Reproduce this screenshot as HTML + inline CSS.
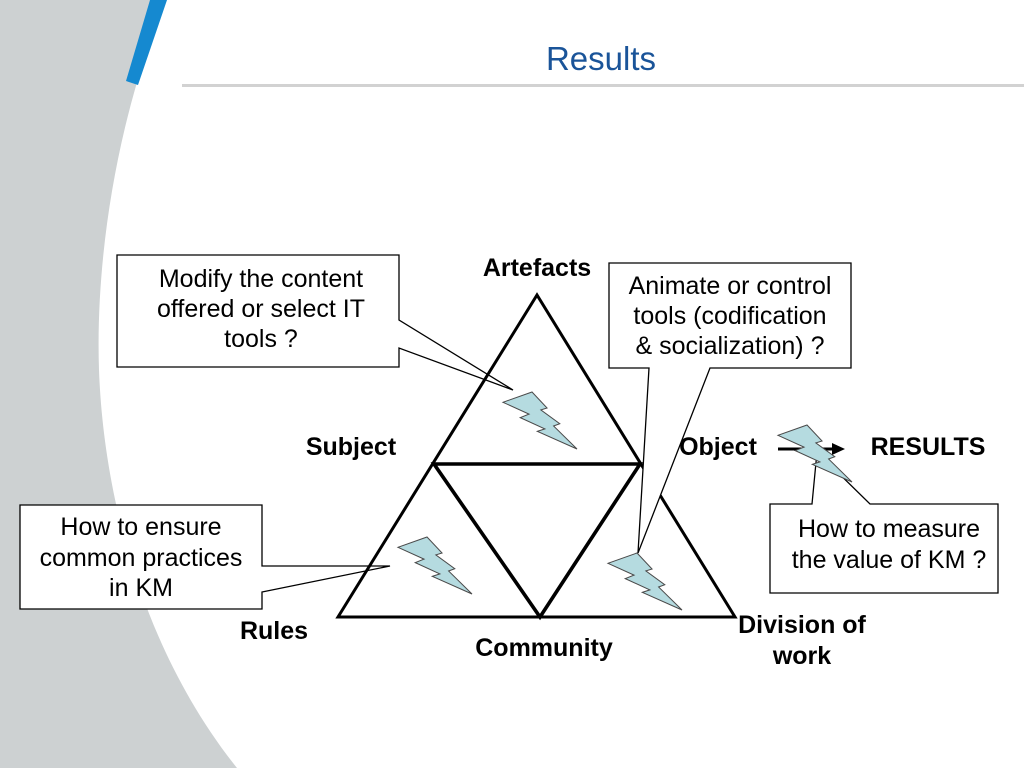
<!DOCTYPE html>
<html>
<head>
<meta charset="utf-8">
<style>
  html, body { margin: 0; padding: 0; background: #ffffff; }
  svg { display: block; }
  text { font-family: "Liberation Sans", Arial, sans-serif; fill: #000; }
</style>
</head>
<body>
<svg width="1024" height="768" viewBox="0 0 1024 768" xmlns="http://www.w3.org/2000/svg">
  <!-- background -->
  <rect x="0" y="0" width="1024" height="768" fill="#ffffff"/>
  <path d="M0,0 L166,0 C120,110 95,250 99,370 C103,480 135,640 237,768 L0,768 Z" fill="#cdd1d2"/>
  <polygon points="150,0 167,0 138,85 126,81" fill="#1589d0"/>
  <rect x="182" y="84" width="842" height="3" fill="#d2d2d2"/>

  <!-- title -->
  <text x="601" y="70" font-size="33" text-anchor="middle" style="fill:#1a5499">Results</text>

  <!-- callout 1 -->
  <path d="M117,255 H399 V320 L513,390 L399,348 V367 H117 Z" fill="#fff" stroke="#000" stroke-width="1.3"/>
  <g font-size="25" text-anchor="middle">
    <text x="261" y="287">Modify the content</text>
    <text x="261" y="317">offered or select IT</text>
    <text x="261" y="347">tools ?</text>
  </g>

  <!-- callout 3 -->
  <path d="M20,505 H262 V566 L390,566 L262,592 V609 H20 Z" fill="#fff" stroke="#000" stroke-width="1.3"/>
  <g font-size="25" text-anchor="middle">
    <text x="141" y="535">How to ensure</text>
    <text x="141" y="566">common practices</text>
    <text x="141" y="596">in KM</text>
  </g>

  <!-- triangle -->
  <polygon points="338,617 537,295 735,617" fill="none" stroke="#000" stroke-width="3" stroke-linejoin="miter"/>
  <polygon points="434,464 640,464 540,617" fill="none" stroke="#000" stroke-width="3.6" stroke-linejoin="miter"/>

  <!-- bolts 1 & 2 -->
  <path transform="translate(503,392)" d="M29.02,0 L44.06,16.04 L37.86,17.94 L56.79,31.68 L50.59,33.98 L74,57 L34.30,39.36 L41.87,36.91 L17.21,25.61 L26.04,22.12 L0,10.27 Z" fill="#b5dbe0" stroke="#4a4a4a" stroke-width="1"/>
  <path transform="translate(398,537)" d="M29.02,0 L44.06,16.04 L37.86,17.94 L56.79,31.68 L50.59,33.98 L74,57 L34.30,39.36 L41.87,36.91 L17.21,25.61 L26.04,22.12 L0,10.27 Z" fill="#b5dbe0" stroke="#4a4a4a" stroke-width="1"/>

  <!-- callout 2 -->
  <path d="M609,263 H851 V368 H710 L638,553 L649,368 H609 Z" fill="#fff" stroke="#000" stroke-width="1.3"/>
  <g font-size="25" text-anchor="middle">
    <text x="730" y="294">Animate or control</text>
    <text x="730" y="324">tools (codification</text>
    <text x="730" y="354">&amp; socialization) ?</text>
  </g>

  <!-- bolt 3 -->
  <path transform="translate(608,553)" d="M29.02,0 L44.06,16.04 L37.86,17.94 L56.79,31.68 L50.59,33.98 L74,57 L34.30,39.36 L41.87,36.91 L17.21,25.61 L26.04,22.12 L0,10.27 Z" fill="#b5dbe0" stroke="#4a4a4a" stroke-width="1"/>

  <!-- arrow object -> results -->
  <line x1="778" y1="449" x2="835" y2="449" stroke="#000" stroke-width="3"/>
  <polygon points="832,443 845,449 832,455" fill="#000"/>

  <!-- callout 4 -->
  <path d="M770,504 H812 L817,452 L870,504 H998 V593 H770 Z" fill="#fff" stroke="#000" stroke-width="1.3"/>
  <g font-size="25" text-anchor="middle">
    <text x="889" y="537">How to measure</text>
    <text x="889" y="568">the value of KM ?</text>
  </g>

  <!-- bolt 4 -->
  <path transform="translate(778,425)" d="M29.02,0 L44.06,16.04 L37.86,17.94 L56.79,31.68 L50.59,33.98 L74,57 L34.30,39.36 L41.87,36.91 L17.21,25.61 L26.04,22.12 L0,10.27 Z" fill="#b5dbe0" stroke="#4a4a4a" stroke-width="1"/>

  <!-- labels -->
  <g font-size="25" font-weight="bold" text-anchor="middle">
    <text x="537" y="276">Artefacts</text>
    <text x="351" y="455">Subject</text>
    <text x="718" y="455">Object</text>
    <text x="928" y="455">RESULTS</text>
    <text x="274" y="639">Rules</text>
    <text x="544" y="656">Community</text>
    <text x="802" y="633">Division of</text>
    <text x="802" y="664">work</text>
  </g>
</svg>
</body>
</html>
